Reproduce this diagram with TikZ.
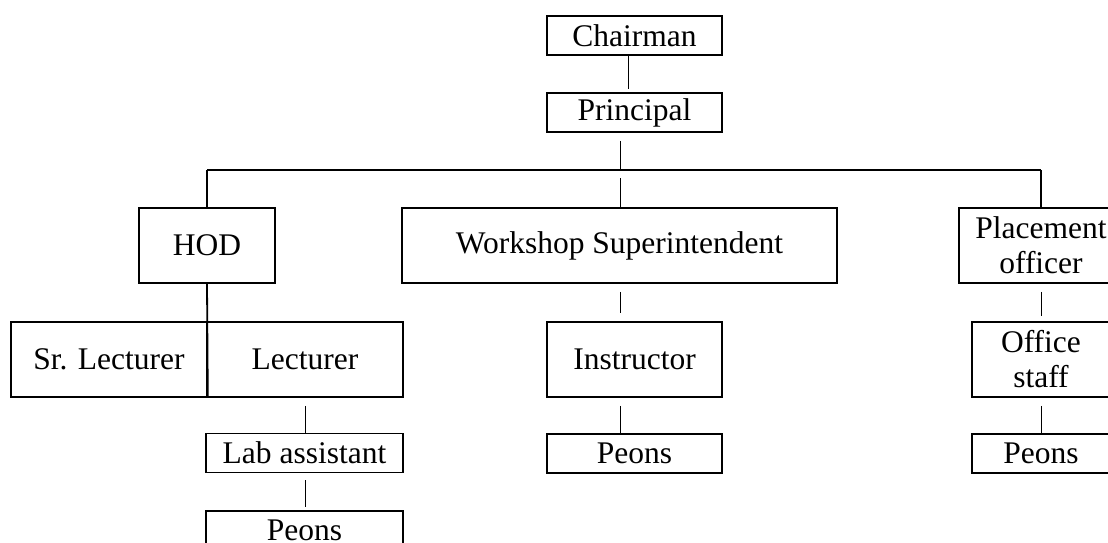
\documentclass[tikz,border=0pt]{standalone}
\usepackage{fontspec}
\setmainfont{Liberation Serif}
\begin{document}
\begin{tikzpicture}[x=1pt,y=-1pt,
  box/.style={draw, line width=1.6pt, inner sep=0pt, align=center,
    font=\fontsize{31.5}{35}\selectfont},
  conn/.style={line width=1pt},
  bus/.style={line width=1.8pt}]
\useasboundingbox (0,0) rectangle (1108,543);
\clip (0,0) rectangle (1108,543);
% top
\node[box, minimum width=175pt, minimum height=39pt] (chair) at (634.5,35.5) {Chairman};
\node[box, minimum width=175pt, minimum height=39pt] (prin) at (634.5,112.5) {Principal};
% second level
\node[box, minimum width=136pt, minimum height=75pt] (hod) at (207,245.5) {HOD};
\node[box, minimum width=435pt, minimum height=75pt] (ws) at (619.5,245.5) {Workshop Superintendent};
\node[box, minimum width=164pt, minimum height=75pt] (place) at (1041,245.5) {Placement\\officer};
% third level
\node[box, minimum width=196pt, minimum height=75pt] (srl) at (109,359.5) {Sr. Lecturer};
\node[box, minimum width=196pt, minimum height=75pt] (lect) at (305,359.5) {Lecturer};
\node[box, minimum width=175pt, minimum height=75pt] (instr) at (634.5,359.5) {Instructor};
\node[box, minimum width=138pt, minimum height=75pt] (office) at (1041,359.5) {Office\\staff};
% fourth level
\node[box, minimum width=197pt, minimum height=39pt] (lab) at (304.5,453) {Lab assistant};
\node[box, minimum width=175pt, minimum height=39pt] (peonm) at (634.5,453.5) {Peons};
\node[box, minimum width=138pt, minimum height=39pt] (peonr) at (1041,453.5) {Peons};
% fifth level
\node[box, minimum width=197pt, minimum height=39pt] (peonl) at (304.5,530.5) {Peons};
% connectors
\coordinate (trunk) at (620,170);
\draw[conn, shorten >=3pt] ([xshift=-6.5pt]chair.south) -- ([xshift=-6.5pt]prin.north);
\draw[conn, shorten <=8pt] (prin.south -| trunk) -- (trunk);
\draw[bus] (hod.north |- trunk) -- (place.north |- trunk);
\draw[bus] (hod.north |- trunk) -- (hod.north);
\draw[bus] (place.north |- trunk) -- (place.north);
\draw[conn, shorten <=8pt] (trunk) -- (ws.north -| trunk);
\draw[bus] (hod.south) -- (srl.south east);
\draw[conn, shorten <=8pt, shorten >=8pt] (ws.south -| trunk) -- (instr.north -| trunk);
\draw[conn, shorten <=8pt] (instr.south -| trunk) -- (peonm.north -| trunk);
\draw[conn, shorten <=8pt] (lect.south) -- (lab.north -| lect.south);
\draw[conn, shorten <=7pt, shorten >=3pt] (lab.south -| lect.south) -- (peonl.north -| lect.south);
\draw[conn, shorten <=8pt, shorten >=5pt] (place.south) -- (office.north);
\draw[conn, shorten <=8pt] (office.south) -- (peonr.north);
\end{tikzpicture}
\end{document}
